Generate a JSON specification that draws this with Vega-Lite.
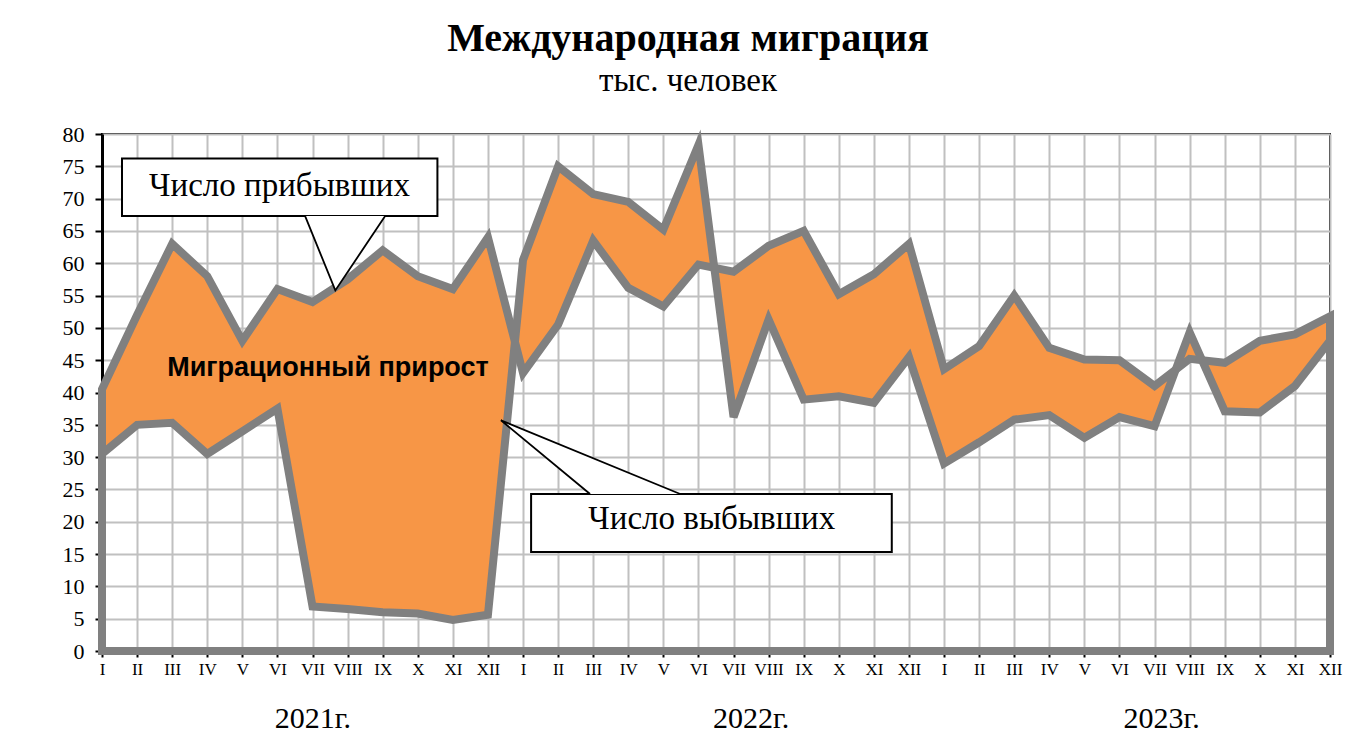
{
  "$schema": "https://vega.github.io/schema/vega-lite/v6.json",
  "width": 1228,
  "height": 517,
  "autosize": {"type": "none"},
  "padding": {"left": 102, "top": 134, "right": 33, "bottom": 103},
  "background": "white",
  "config": {
    "view": {"stroke": "#000000", "strokeWidth": 2},
    "font": "Liberation Serif"
  },
  "title": {
    "text": "Международная миграция",
    "subtitle": "тыс. человек",
    "font": "Liberation Serif",
    "fontSize": 40,
    "fontWeight": "bold",
    "color": "#000000",
    "subtitleFont": "Liberation Serif",
    "subtitleFontSize": 33,
    "subtitleColor": "#000000",
    "subtitlePadding": 6,
    "anchor": "middle",
    "frame": "group",
    "dx": -28,
    "offset": 25
  },
  "resolve": {"axis": {"x": "independent", "y": "independent"}},
  "datasets": {
    "migr": [
      {"year": 2021, "month": "I", "i": 0, "arr": 40.5, "dep": 30.5},
      {"year": 2021, "month": "II", "i": 1, "arr": 52, "dep": 35},
      {"year": 2021, "month": "III", "i": 2, "arr": 63, "dep": 35.3},
      {"year": 2021, "month": "IV", "i": 3, "arr": 58, "dep": 30.5},
      {"year": 2021, "month": "V", "i": 4, "arr": 48, "dep": 34},
      {"year": 2021, "month": "VI", "i": 5, "arr": 56, "dep": 37.5},
      {"year": 2021, "month": "VII", "i": 6, "arr": 54, "dep": 6.9},
      {"year": 2021, "month": "VIII", "i": 7, "arr": 57.5, "dep": 6.5},
      {"year": 2021, "month": "IX", "i": 8, "arr": 62, "dep": 6.0},
      {"year": 2021, "month": "X", "i": 9, "arr": 58, "dep": 5.8},
      {"year": 2021, "month": "XI", "i": 10, "arr": 56, "dep": 4.8},
      {"year": 2021, "month": "XII", "i": 11, "arr": 64, "dep": 5.6},
      {"year": 2022, "month": "I", "i": 12, "arr": 43, "dep": 60.5},
      {"year": 2022, "month": "II", "i": 13, "arr": 50.5, "dep": 75},
      {"year": 2022, "month": "III", "i": 14, "arr": 63.5, "dep": 70.7},
      {"year": 2022, "month": "IV", "i": 15, "arr": 56.2, "dep": 69.5},
      {"year": 2022, "month": "V", "i": 16, "arr": 53.3, "dep": 65.2},
      {"year": 2022, "month": "VI", "i": 17, "arr": 59.8, "dep": 78.3},
      {"year": 2022, "month": "VII", "i": 18, "arr": 58.7, "dep": 36.2},
      {"year": 2022, "month": "VIII", "i": 19, "arr": 62.7, "dep": 51.3},
      {"year": 2022, "month": "IX", "i": 20, "arr": 65, "dep": 38.9},
      {"year": 2022, "month": "X", "i": 21, "arr": 55.2, "dep": 39.4},
      {"year": 2022, "month": "XI", "i": 22, "arr": 58.3, "dep": 38.4},
      {"year": 2022, "month": "XII", "i": 23, "arr": 63, "dep": 45.5},
      {"year": 2023, "month": "I", "i": 24, "arr": 43.6, "dep": 29},
      {"year": 2023, "month": "II", "i": 25, "arr": 47.2, "dep": 32.3},
      {"year": 2023, "month": "III", "i": 26, "arr": 55, "dep": 35.8},
      {"year": 2023, "month": "IV", "i": 27, "arr": 46.9, "dep": 36.5},
      {"year": 2023, "month": "V", "i": 28, "arr": 45.1, "dep": 33},
      {"year": 2023, "month": "VI", "i": 29, "arr": 45, "dep": 36.2},
      {"year": 2023, "month": "VII", "i": 30, "arr": 41, "dep": 34.8},
      {"year": 2023, "month": "VIII", "i": 31, "arr": 45.2, "dep": 49.3},
      {"year": 2023, "month": "IX", "i": 32, "arr": 44.6, "dep": 37.1},
      {"year": 2023, "month": "X", "i": 33, "arr": 48, "dep": 36.9},
      {"year": 2023, "month": "XI", "i": 34, "arr": 49, "dep": 41},
      {"year": 2023, "month": "XII", "i": 35, "arr": 51.8, "dep": 48}
    ],
    "boxes": [
      {"bx1": 0.57, "bx2": 9.56, "by1": 67.3, "by2": 76.2},
      {"bx1": 12.23, "bx2": 22.51, "by1": 15.3, "by2": 24.3}
    ],
    "tri1": [
      {"px": 5.79, "lo": 67.3, "hi": 67.3},
      {"px": 6.65, "lo": 55.8, "hi": 67.3},
      {"px": 8.07, "lo": 67.3, "hi": 67.3}
    ],
    "tri2": [
      {"px": 11.37, "lo": 35.7, "hi": 35.7},
      {"px": 13.91, "lo": 24.3, "hi": 30.0},
      {"px": 16.48, "lo": 24.3, "hi": 24.3}
    ],
    "ptr": [
      {"p": "a", "o": 0, "px": 5.79, "py": 67.3},
      {"p": "a", "o": 1, "px": 6.65, "py": 55.8},
      {"p": "a", "o": 2, "px": 8.07, "py": 67.3},
      {"p": "b", "o": 0, "px": 13.91, "py": 24.3},
      {"p": "b", "o": 1, "px": 11.37, "py": 35.7},
      {"p": "b", "o": 2, "px": 16.48, "py": 24.3}
    ],
    "labels": [
      {"txt": "Число прибывших", "lx": 5.06, "ly": 72.0, "kind": "callout"},
      {"txt": "Число выбывших", "lx": 17.38, "ly": 20.4, "kind": "callout"},
      {"txt": "Миграционный прирост", "lx": 6.44, "ly": 43.8, "kind": "bold"},
      {"txt": "2021г.", "lx": 6.01, "ly": -10.5, "kind": "year"},
      {"txt": "2022г.", "lx": 18.5, "ly": -10.5, "kind": "year"},
      {"txt": "2023г.", "lx": 30.2, "ly": -10.5, "kind": "year"}
    ]
  },
  "layer": [
    {
      "data": {"name": "migr"},
      "mark": {"type": "area", "color": "#F79646", "opacity": 1},
      "encoding": {
        "x": {
          "field": "i",
          "type": "quantitative",
          "scale": {"domain": [0, 35], "nice": false, "zero": false},
          "axis": {
            "title": null,
            "values": [0,1,2,3,4,5,6,7,8,9,10,11,12,13,14,15,16,17,18,19,20,21,22,23,24,25,26,27,28,29,30,31,32,33,34,35],
            "labelExpr": "['I','II','III','IV','V','VI','VII','VIII','IX','X','XI','XII'][round(datum.value) % 12]",
            "labelFont": "Liberation Serif",
            "labelFontSize": 17,
            "labelColor": "#000000",
            "labelPadding": 4,
            "labelFlush": false,
            "labelOverlap": false,
            "tickColor": "#000000",
            "tickSize": 6,
            "tickWidth": 2,
            "domainColor": "#000000",
            "domainWidth": 3,
            "grid": true,
            "gridColor": "#C0C0C0",
            "gridWidth": 2
          }
        },
        "y": {
          "field": "arr",
          "type": "quantitative",
          "scale": {"domain": [0, 80], "nice": false},
          "axis": {
            "title": null,
            "values": [0,5,10,15,20,25,30,35,40,45,50,55,60,65,70,75,80],
            "labelFont": "Liberation Serif",
            "labelFontSize": 22,
            "labelColor": "#000000",
            "labelPadding": 11,
            "labelOverlap": false,
            "labelFlush": false,
            "tickColor": "#000000",
            "tickSize": 7,
            "tickWidth": 2,
            "domainColor": "#000000",
            "domainWidth": 3,
            "grid": true,
            "gridColor": "#C0C0C0",
            "gridWidth": 2
          }
        },
        "y2": {"field": "dep"}
      }
    },
    {
      "data": {"name": "migr"},
      "mark": {"type": "area", "fillOpacity": 0, "stroke": "#808080", "strokeWidth": 8, "strokeJoin": "miter"},
      "encoding": {
        "x": {"field": "i", "type": "quantitative", "axis": null},
        "y": {"field": "dep", "type": "quantitative", "axis": null}
      }
    },
    {
      "data": {"name": "migr"},
      "mark": {"type": "area", "fillOpacity": 0, "stroke": "#808080", "strokeWidth": 8, "strokeJoin": "miter"},
      "encoding": {
        "x": {"field": "i", "type": "quantitative", "axis": null},
        "y": {"field": "arr", "type": "quantitative", "axis": null}
      }
    },
    {
      "data": {"name": "boxes"},
      "mark": {"type": "rect", "fill": "#FFFFFF", "stroke": "#000000", "strokeWidth": 2},
      "encoding": {
        "x": {"field": "bx1", "type": "quantitative", "axis": null},
        "x2": {"field": "bx2"},
        "y": {"field": "by1", "type": "quantitative", "axis": null},
        "y2": {"field": "by2"}
      }
    },
    {
      "data": {"name": "tri1"},
      "mark": {"type": "area", "fill": "#FFFFFF", "opacity": 1},
      "encoding": {
        "x": {"field": "px", "type": "quantitative", "axis": null},
        "y": {"field": "lo", "type": "quantitative", "axis": null},
        "y2": {"field": "hi"}
      }
    },
    {
      "data": {"name": "tri2"},
      "mark": {"type": "area", "fill": "#FFFFFF", "opacity": 1},
      "encoding": {
        "x": {"field": "px", "type": "quantitative", "axis": null},
        "y": {"field": "lo", "type": "quantitative", "axis": null},
        "y2": {"field": "hi"}
      }
    },
    {
      "data": {"name": "ptr"},
      "mark": {"type": "line", "color": "#000000", "strokeWidth": 1.8},
      "encoding": {
        "x": {"field": "px", "type": "quantitative", "axis": null},
        "y": {"field": "py", "type": "quantitative", "axis": null},
        "detail": {"field": "p"},
        "order": {"field": "o"}
      }
    },
    {
      "data": {"name": "labels"},
      "transform": [{"filter": "datum.kind == 'callout'"}],
      "mark": {"type": "text", "font": "Liberation Serif", "fontSize": 33, "color": "#000000", "align": "center", "baseline": "middle"},
      "encoding": {
        "x": {"field": "lx", "type": "quantitative", "axis": null},
        "y": {"field": "ly", "type": "quantitative", "axis": null},
        "text": {"field": "txt"}
      }
    },
    {
      "data": {"name": "labels"},
      "transform": [{"filter": "datum.kind == 'bold'"}],
      "mark": {"type": "text", "font": "Liberation Sans", "fontWeight": "bold", "fontSize": 27, "color": "#000000", "align": "center", "baseline": "middle"},
      "encoding": {
        "x": {"field": "lx", "type": "quantitative", "axis": null},
        "y": {"field": "ly", "type": "quantitative", "axis": null},
        "text": {"field": "txt"}
      }
    },
    {
      "data": {"name": "labels"},
      "transform": [{"filter": "datum.kind == 'year'"}],
      "mark": {"type": "text", "font": "Liberation Serif", "fontSize": 30, "color": "#000000", "align": "center", "baseline": "middle"},
      "encoding": {
        "x": {"field": "lx", "type": "quantitative", "axis": null},
        "y": {"field": "ly", "type": "quantitative", "axis": null},
        "text": {"field": "txt"}
      }
    }
  ]
}
